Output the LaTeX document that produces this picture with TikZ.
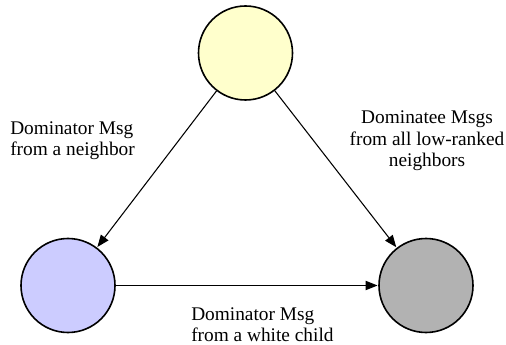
\documentclass[tikz,border=0pt]{standalone}
\usepackage{fontspec}
\setmainfont{Liberation Serif}
\usetikzlibrary{arrows.meta}

\definecolor{nodeyellow}{RGB}{255,255,204}
\definecolor{nodeblue}{RGB}{204,204,255}
\definecolor{nodegray}{RGB}{178,178,178}

\tikzset{
  peer/.style={circle, draw=black, line width=1.2pt, minimum size=70.5pt, inner sep=0pt},
  msg/.style={-{Triangle[length=9pt,width=7pt]}, line width=0.8pt, shorten >=0.5pt},
  lbl/.style={font=\fontsize{14.5}{16}\selectfont, inner sep=0pt}
}

\begin{document}
\begin{tikzpicture}[x=0.75pt,y=0.75pt,yscale=-1,xscale=1]
        \useasboundingbox (0,0) rectangle (506,345);

        %Shape: Circle [id:top]
        \node [peer, fill=nodeyellow] (top) at (245.5,53) {};
        %Shape: Circle [id:left]
        \node [peer, fill=nodeblue] (left) at (68,285.5) {};
        %Shape: Circle [id:right]
        \node [peer, fill=nodegray] (right) at (426,285.5) {};

        \draw [msg] (top) -- (left);
        \draw [msg] (top) -- (right);
        \draw [msg] (left) -- (right);

        % Text Node
        \node [lbl, anchor=west, align=left] (lblnbr) at (10,141) {Dominator Msg\\from a neighbor};
        % Text Node
        \node [lbl, align=center] (lbllow) at (427,141) {Dominatee Msgs\\from all low-ranked\\neighbors};
        % Text Node
        \node [lbl, anchor=west, align=left] (lblchild) at (191,324.5) {Dominator Msg\\from a white child};

\end{tikzpicture}
\end{document}
